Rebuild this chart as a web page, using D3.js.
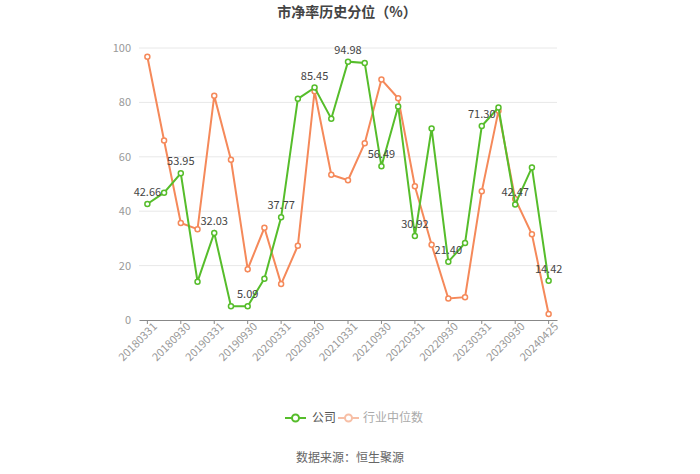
<!DOCTYPE html>
<html>
<head>
<meta charset="utf-8">
<script src="https://cdn.jsdelivr.net/npm/d3@7/dist/d3.min.js"></script>
<style>
  html, body { margin: 0; padding: 0; background: #fff; }
  svg { display: block; font-family: "Microsoft YaHei", "Noto Sans CJK SC", sans-serif; }
</style>
</head>
<body>
<svg id="chart" width="700" height="474"></svg>
<script>
const dates = ['20180331', '20180630', '20180930', '20181231', '20190331', '20190630', '20190930', '20191231',
  '20200331', '20200630', '20200930', '20201231', '20210331', '20210630', '20210930', '20211231',
  '20220331', '20220630', '20220930', '20221231', '20230331', '20230630', '20230930', '20231231', '20240425'];
const company = [42.66, 46.8, 53.95, 14.1, 32.03, 5.1, 5.09, 15.2, 37.77, 81.3, 85.45, 74.0, 94.98, 94.5,
  56.49, 78.5, 30.92, 70.4, 21.40, 28.3, 71.30, 78.1, 42.47, 56.1, 14.42];
const industry = [96.8, 66.0, 35.7, 33.4, 82.4, 58.9, 18.7, 33.9, 13.2, 27.3, 84.1, 53.4, 51.4, 65.0,
  88.4, 81.5, 49.2, 27.7, 7.9, 8.4, 47.3, 76.9, 44.5, 31.5, 2.2];
const yTicks = [0, 20, 40, 60, 80, 100];
const seriesNames = ['公司', '行业中位数'];

const green = '#56bd2b';
const orange = '#f5895a';

const margin = { top: 48, right: 143, bottom: 154, left: 139 },
  width = 700 - margin.left - margin.right,
  height = 474 - margin.top - margin.bottom;

const svg = d3.select('#chart');

svg.append('text')
  .attr('x', 347)
  .attr('y', 17)
  .attr('text-anchor', 'middle')
  .style('font-size', '14px')
  .style('font-weight', 'bold')
  .style('fill', '#444')
  .text('市净率历史分位（%）');

const g = svg.append('g')
  .attr('transform', 'translate(' + margin.left + ',' + margin.top + ')');

const x = d3.scaleBand()
  .domain(dates)
  .range([0, width]);

const y = d3.scaleLinear()
  .domain([0, 100])
  .range([height, 0]);

// grid lines
g.append('g')
  .selectAll('line')
  .data(yTicks.filter(d => d > 0))
  .enter().append('line')
  .attr('x1', 0).attr('x2', width)
  .attr('y1', d => y(d)).attr('y2', d => y(d))
  .attr('stroke', '#e8e8e8');

// y axis labels
const yAxis = d3.axisLeft(y).tickValues(yTicks).tickSize(0).tickPadding(8);
g.append('g')
  .call(yAxis)
  .call(s => s.select('.domain').remove())
  .selectAll('text')
  .style('font-size', '11px')
  .style('fill', '#999')
  .style('font-family', '"Microsoft YaHei", "Noto Sans CJK SC", sans-serif');

// x axis
const xAxis = d3.axisBottom(x)
  .tickValues(dates.filter((d, i) => i % 2 === 0))
  .tickSize(4)
  .tickSizeOuter(0);
const xg = g.append('g')
  .attr('transform', 'translate(0,' + height + ')')
  .call(xAxis);
xg.select('.domain').attr('stroke', '#888');
xg.selectAll('.tick line').attr('stroke', '#888');
xg.selectAll('text')
  .style('font-size', '11px')
  .style('fill', '#999')
  .style('font-family', '"Microsoft YaHei", "Noto Sans CJK SC", sans-serif')
  .attr('text-anchor', 'end')
  .attr('dx', '0.2em')
  .attr('dy', '0.5em')
  .attr('transform', 'rotate(-45)');

const cx = (d, i) => x(dates[i]) + x.bandwidth() / 2;

function drawSeries(values, color) {
  const line = d3.line()
    .x((d, i) => cx(d, i))
    .y(d => y(d));
  g.append('path')
    .datum(values)
    .attr('fill', 'none')
    .attr('stroke', color)
    .attr('stroke-width', 2)
    .attr('d', line);
  g.append('g')
    .selectAll('circle')
    .data(values)
    .enter().append('circle')
    .attr('cx', cx)
    .attr('cy', d => y(d))
    .attr('r', 2.5)
    .attr('fill', '#fff')
    .attr('stroke', color)
    .attr('stroke-width', 1.5);
}

drawSeries(industry, orange);
drawSeries(company, green);

// value labels for the company series (every other point)
const labelled = company.map((v, i) => ({ v, i })).filter(d => d.i % 2 === 0);
g.append('g')
  .selectAll('text')
  .data(labelled)
  .enter().append('text')
  .attr('x', d => cx(d.v, d.i))
  .attr('y', d => y(d.v) - 8)
  .attr('text-anchor', 'middle')
  .style('font-size', '11px')
  .style('fill', '#444')
  .text(d => d.v.toFixed(2));

// legend
const legend = svg.append('g').attr('transform', 'translate(0,418)');
const items = [
  { name: seriesNames[0], color: green, text: '#555', x0: 285, tx: 312 },
  { name: seriesNames[1], color: '#f7bfa6', text: '#aaa', x0: 338, tx: 363 }
];
items.forEach(it => {
  legend.append('line')
    .attr('x1', it.x0).attr('x2', it.x0 + 21)
    .attr('y1', 0).attr('y2', 0)
    .attr('stroke', it.color)
    .attr('stroke-width', 2);
  legend.append('circle')
    .attr('cx', it.x0 + 10.5).attr('cy', 0)
    .attr('r', 3.5)
    .attr('fill', '#fff')
    .attr('stroke', it.color)
    .attr('stroke-width', 2);
  legend.append('text')
    .attr('x', it.tx)
    .attr('y', 0)
    .attr('dy', '0.35em')
    .style('font-size', '12px')
    .style('fill', it.text)
    .text(it.name);
});

svg.append('text')
  .attr('x', 350)
  .attr('y', 462)
  .attr('text-anchor', 'middle')
  .style('font-size', '12px')
  .style('fill', '#666')
  .text('数据来源：恒生聚源');
</script>
</body>
</html>
